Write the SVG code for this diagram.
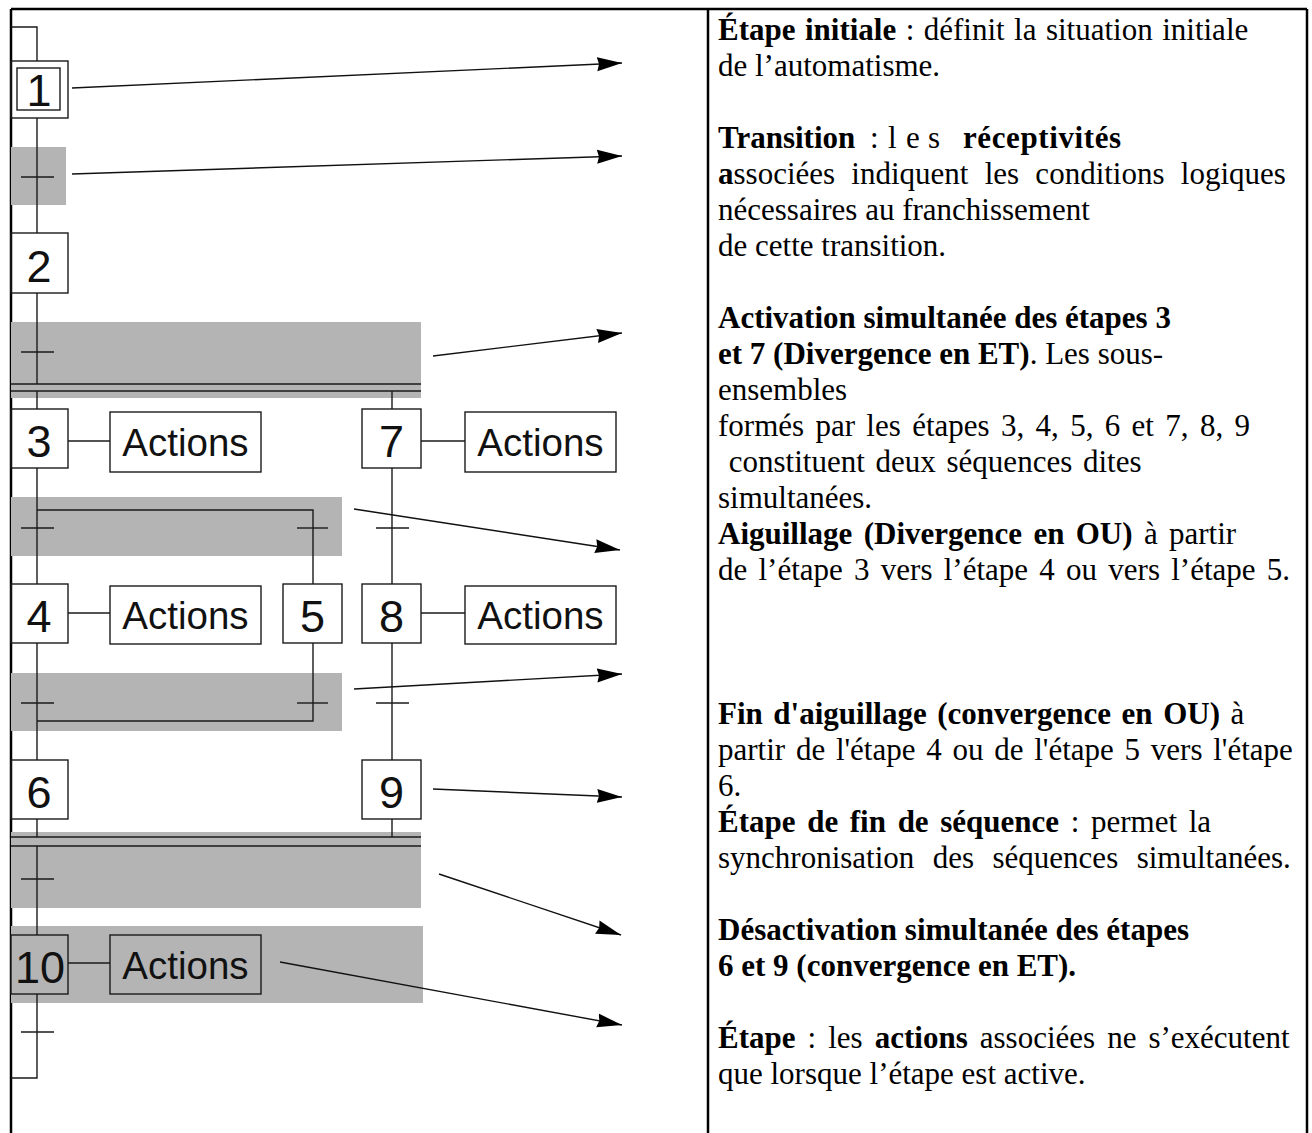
<svg xmlns="http://www.w3.org/2000/svg" width="1312" height="1133" viewBox="0 0 1312 1133">
<style>
.gray{fill:#b4b4b4}
.ln{stroke:#1a1a1a;stroke-width:1.4;fill:none}
.dbl{stroke:#1a1a1a;stroke-width:1.6;fill:none}
.box{fill:none;stroke:#1a1a1a;stroke-width:1.4}
.num{font-family:"Liberation Sans",Arial,sans-serif;font-size:45px;text-anchor:middle;fill:#111}
.act{font-family:"Liberation Sans",Arial,sans-serif;font-size:38.5px;text-anchor:middle;fill:#111}
.txt text{font-family:"Liberation Serif","Times New Roman",serif;font-size:31px;fill:#000;white-space:pre}
.b{font-weight:bold}
.frame{stroke:#000;stroke-width:2.5;fill:none}
.arr{stroke:#111;stroke-width:1.4;fill:none;marker-end:url(#ah)}
</style>
<defs>
<marker id="ah" markerUnits="userSpaceOnUse" markerWidth="26" markerHeight="16" refX="25" refY="8" orient="auto">
<path d="M0,1 L25,8 L0,15 L2,8 Z" fill="#000"/>
</marker>
</defs>
<rect width="1312" height="1133" fill="#fff"/>
<g id="frame" class="frame">
<path d="M11,9 H1307"/>
<path d="M11,9 V1133"/>
<path d="M708,9 V1133"/>
<path d="M1307,9 V1133"/>
</g>
<g id="highlights" class="gray">
<rect x="11" y="147" width="55" height="58"/>
<rect x="11" y="322" width="410" height="76"/>
<rect x="11" y="497" width="331" height="59"/>
<rect x="11" y="673" width="331" height="58"/>
<rect x="11" y="832" width="410" height="76"/>
<rect x="11" y="926" width="412" height="77"/>
</g>
<g id="connectors">
<g class="ln">
<path d="M11,27 H37 V61"/>
<path d="M37,118 V233"/><path d="M21,177 H54"/>
<path d="M37,293 V384"/><path d="M21,352 H54"/>
<path d="M37,391 V409"/>
<path d="M392,391 V409"/>
<path d="M37,468 V584"/><path d="M21,528 H54"/>
<path d="M37,510 H313 V584"/><path d="M297,528 H328"/>
<path d="M392,468 V584"/><path d="M376,528 H409"/>
<path d="M37,643 V760"/><path d="M21,703 H54"/>
<path d="M313,643 V721 H37"/><path d="M297,703 H328"/>
<path d="M392,643 V760"/><path d="M376,703 H409"/>
<path d="M37,819 V837"/>
<path d="M392,819 V837"/>
<path d="M37,846 V935"/><path d="M21,879 H54"/>
<path d="M37,994 V1078 H11"/><path d="M21,1032 H54"/>
<path d="M68,441 H110"/>
<path d="M421,441 H465"/>
<path d="M68,613 H110"/>
<path d="M421,613 H465"/>
<path d="M68,963 H110"/>
</g>
<g class="dbl">
<path d="M11,384 H421"/><path d="M11,391 H421"/>
<path d="M11,837 H421"/><path d="M11,846 H421"/>
</g>
<g id="arrows" class="arr">
<path d="M72,88 L622,63"/>
<path d="M72,174 L622,156"/>
<path d="M433,356 L622,333"/>
<path d="M354,509 L620,550"/>
<path d="M354,689 L622,674"/>
<path d="M433,789 L622,797"/>
<path d="M439,874 L621,935"/>
<path d="M280,962 L622,1025"/>
</g>
</g>
<g id="step1"><rect class="box" x="11" y="61" width="57" height="57"/><rect class="box" x="17" y="68" width="43" height="42"/><text class="num" x="39" y="106">1</text></g>
<g id="step2"><rect class="box" x="11" y="233" width="57" height="60"/><text class="num" x="39" y="282">2</text></g>
<g id="step3"><rect class="box" x="11" y="409" width="57" height="59"/><text class="num" x="39" y="457">3</text></g>
<g id="actions3"><rect class="box" x="110" y="412" width="151" height="60"/><text class="act" x="185.5" y="456">Actions</text></g>
<g id="step7"><rect class="box" x="362" y="409" width="59" height="59"/><text class="num" x="391.5" y="457">7</text></g>
<g id="actions7"><rect class="box" x="465" y="412" width="151" height="60"/><text class="act" x="540.5" y="456">Actions</text></g>
<g id="step4"><rect class="box" x="11" y="584" width="57" height="59"/><text class="num" x="39" y="632">4</text></g>
<g id="actions4"><rect class="box" x="110" y="586" width="151" height="58"/><text class="act" x="185.5" y="629">Actions</text></g>
<g id="step5"><rect class="box" x="283" y="584" width="59" height="59"/><text class="num" x="312.5" y="632">5</text></g>
<g id="step8"><rect class="box" x="362" y="584" width="59" height="59"/><text class="num" x="391.5" y="632">8</text></g>
<g id="actions8"><rect class="box" x="465" y="586" width="151" height="58"/><text class="act" x="540.5" y="629">Actions</text></g>
<g id="step6"><rect class="box" x="11" y="760" width="57" height="59"/><text class="num" x="39" y="808">6</text></g>
<g id="step9"><rect class="box" x="362" y="760" width="59" height="59"/><text class="num" x="391.5" y="808">9</text></g>
<g id="step10"><rect class="box" x="11" y="935" width="57" height="59"/><text class="num" x="40" y="983">10</text></g>
<g id="actions10"><rect class="box" x="110" y="935" width="151" height="59"/><text class="act" x="185.5" y="979">Actions</text></g>
<g id="descriptions" class="txt">
<text x="718" y="40" word-spacing="1.7"><tspan class="b">Étape initiale</tspan> : définit la situation initiale</text>
<text x="718" y="76">de l’automatisme.</text>
<text y="148"><tspan class="b" x="718">Transition</tspan><tspan x="870">:</tspan><tspan x="888">l</tspan><tspan x="906">e</tspan><tspan x="928">s</tspan><tspan class="b" x="963" letter-spacing="0.6">réceptivités</tspan></text>
<text x="718" y="184" word-spacing="8.5"><tspan class="b">a</tspan>ssociées indiquent les conditions logiques</text>
<text x="718" y="220">nécessaires au franchissement</text>
<text x="718" y="256">de cette transition.</text>
<text x="718" y="328"><tspan class="b">Activation simultanée des étapes 3</tspan></text>
<text x="718" y="364"><tspan class="b">et 7 (Divergence en ET)</tspan>. Les sous-</text>
<text x="718" y="400">ensembles</text>
<text x="718" y="436" word-spacing="3.6">formés par les étapes 3, 4, 5, 6 et 7, 8, 9</text>
<text x="718" y="472" word-spacing="3"> constituent deux séquences dites</text>
<text x="718" y="508">simultanées.</text>
<text x="718" y="544" word-spacing="3.6"><tspan class="b">Aiguillage (Divergence en OU)</tspan> à partir</text>
<text x="718" y="580" word-spacing="3.5">de l’étape 3 vers l’étape 4 ou vers l’étape 5.</text>
<text x="718" y="724" word-spacing="2.8"><tspan class="b">Fin d'aiguillage (convergence en OU)</tspan> à</text>
<text x="718" y="760" word-spacing="3">partir de l'étape 4 ou de l'étape 5 vers l'étape</text>
<text x="718" y="796">6.</text>
<text x="718" y="832" word-spacing="3.9"><tspan class="b">Étape de fin de séquence</tspan> : permet la</text>
<text x="718" y="868" word-spacing="10.7">synchronisation des séquences simultanées.</text>
<text x="718" y="940"><tspan class="b">Désactivation simultanée des étapes</tspan></text>
<text x="718" y="976"><tspan class="b">6 et 9 (convergence en ET).</tspan></text>
<text x="718" y="1048" word-spacing="4.3"><tspan class="b">Étape</tspan> : les <tspan class="b">actions</tspan> associées ne s’exécutent</text>
<text x="718" y="1084">que lorsque l’étape est active.</text>
</g>
</svg>
